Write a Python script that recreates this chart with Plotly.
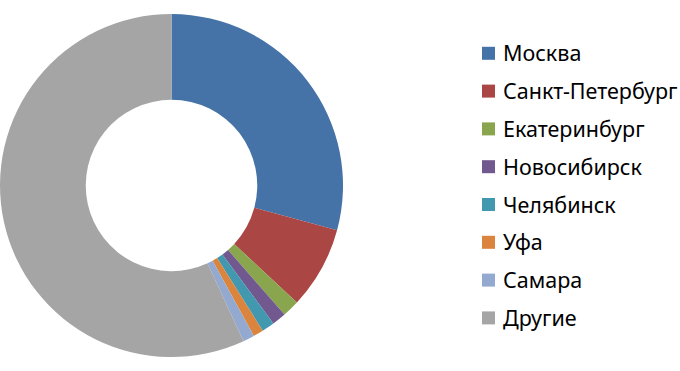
import plotly.graph_objects as go

categories = ["Москва", "Санкт-Петербург", "Екатеринбург", "Новосибирск",
              "Челябинск", "Уфа", "Самара", "Другие"]
values = [29.2, 7.75, 1.6, 1.33, 1.2, 0.95, 1.08, 56.9]
colors = ["#4572A7", "#AA4643", "#89A54E", "#71588F",
          "#4198AF", "#DB843D", "#93A9CF", "#A5A5A5"]

W, H = 680, 371

fig = go.Figure(go.Pie(
    labels=categories,
    values=values,
    sort=False,
    direction="clockwise",
    rotation=0,
    hole=0.5,
    textinfo="none",
    hoverinfo="label+percent",
    marker=dict(colors=colors, line=dict(width=0)),
    domain=dict(x=[0, 343 / W], y=[(H - 357) / H, (H - 14) / H]),
    showlegend=False,
))

# manual legend (to match row spacing of the reference)
y0, dy = 53.3, 37.8
shapes, annotations = [], []
for i, (name, col) in enumerate(zip(categories, colors)):
    yc = y0 + i * dy
    shapes.append(dict(type="rect", xref="paper", yref="paper",
                       x0=482 / W, x1=495 / W,
                       y0=1 - (yc + 6.5) / H, y1=1 - (yc - 6.5) / H,
                       fillcolor=col, line=dict(width=0)))
    annotations.append(dict(xref="paper", yref="paper", x=501 / W, y=1 - (yc - 0.5) / H,
                            xanchor="left", yanchor="middle", showarrow=False,
                            text=name, font=dict(family="Noto Sans", size=21.5, color="#000000")))

fig.update_layout(
    width=W, height=H,
    margin=dict(l=0, r=0, t=0, b=0),
    paper_bgcolor="white", plot_bgcolor="white",
    shapes=shapes, annotations=annotations,
)

fig.write_html("out.html", config={"displayModeBar": False},
               post_script="document.body.style.margin='0';")
